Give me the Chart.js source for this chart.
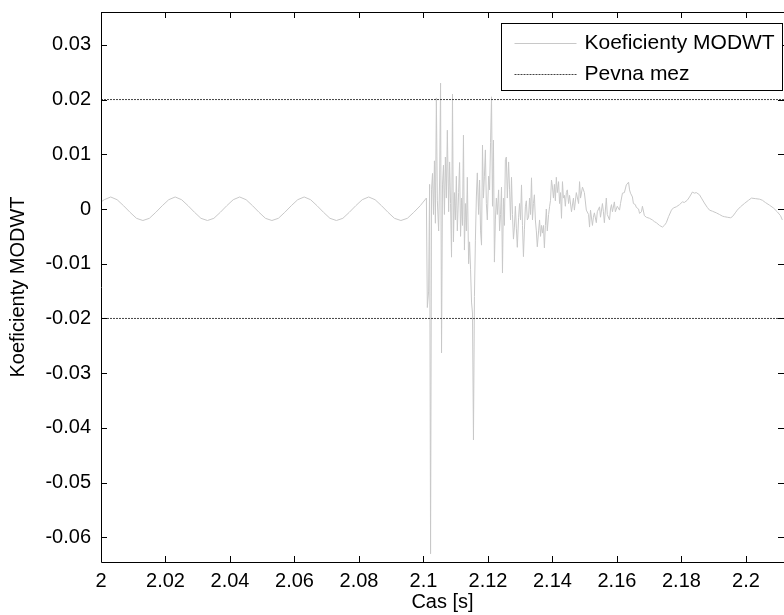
<!DOCTYPE html>
<html>
<head>
<meta charset="utf-8">
<script src="https://cdn.jsdelivr.net/npm/chart.js@4.4.1/dist/chart.umd.min.js"></script>
<style>
  html, body { margin: 0; padding: 0; background: #fff; }
</style>
</head>
<body>
<canvas id="myChart" width="784" height="615"></canvas>
<script>
const xRange = [2, 2.2118];
const yRange = [-0.0645, 0.036];
const xTicks = [2, 2.02, 2.04, 2.06, 2.08, 2.1, 2.12, 2.14, 2.16, 2.18, 2.2];
const xTickLabels = ["2", "2.02", "2.04", "2.06", "2.08", "2.1", "2.12", "2.14", "2.16", "2.18", "2.2"];
const yTicks = [-0.06, -0.05, -0.04, -0.03, -0.02, -0.01, 0, 0.01, 0.02, 0.03];
const yTickLabels = ["-0.06", "-0.05", "-0.04", "-0.03", "-0.02", "-0.01", "0", "0.01", "0.02", "0.03"];
const pevnaMez = 0.02;

// [cas s, koeficient]
const koefMODWT = [
  [2.000, 0.0013], [2.001, 0.0017], [2.003, 0.0022], [2.005, 0.0017], [2.007, 0.0006], [2.009, -0.0006], [2.011, -0.0017], [2.013, -0.0021], [2.015, -0.0017], [2.017, -0.0006], [2.019, 0.0006],
  [2.021, 0.0017], [2.023, 0.0022], [2.025, 0.0017], [2.027, 0.0006], [2.029, -0.0006], [2.031, -0.0017], [2.033, -0.0021], [2.035, -0.0017], [2.037, -0.0006], [2.039, 0.0006],
  [2.041, 0.0017], [2.043, 0.0022], [2.045, 0.0017], [2.047, 0.0006], [2.049, -0.0006], [2.051, -0.0017], [2.053, -0.0021], [2.055, -0.0017], [2.057, -0.0006], [2.059, 0.0006],
  [2.061, 0.0017], [2.063, 0.0022], [2.065, 0.0017], [2.067, 0.0006], [2.069, -0.0006], [2.071, -0.0017], [2.073, -0.0021], [2.075, -0.0017], [2.077, -0.0006], [2.079, 0.0006],
  [2.081, 0.0017], [2.083, 0.0022], [2.085, 0.0017], [2.087, 0.0006], [2.089, -0.0006], [2.091, -0.0017], [2.093, -0.0021], [2.095, -0.0017], [2.097, -0.0006], [2.099, 0.0006],
  [2.1009, 0.0020], [2.1012, -0.0180], [2.1016, -0.0150], [2.1019, 0.0045], [2.1022, -0.0630], [2.1025, 0.0035], [2.1028, 0.0065], [2.1031, -0.0010],
  [2.1034, 0.0088], [2.1037, -0.0026], [2.1040, 0.0203], [2.1043, 0.0016], [2.1047, -0.0040], [2.1050, 0.0053], [2.1053, 0.0230], [2.1056, -0.0263],
  [2.1059, 0.0044], [2.1062, 0.0080], [2.1065, -0.0010], [2.1068, 0.0095], [2.1071, 0.0020], [2.1074, 0.0144], [2.1078, -0.0005], [2.1081, 0.0086],
  [2.1084, 0.0010], [2.1087, -0.0088], [2.1090, 0.0210], [2.1093, -0.0060], [2.1096, 0.0030], [2.1099, -0.0020], [2.1102, 0.0060], [2.1105, -0.0040],
  [2.1109, 0.0030], [2.1112, 0.0085], [2.1115, -0.0050], [2.1118, 0.0020], [2.1121, -0.0030], [2.1124, 0.0135], [2.1127, -0.0075], [2.1130, 0.0010],
  [2.1133, -0.0040], [2.1136, 0.0058], [2.1140, -0.0100], [2.1143, -0.0060], [2.1146, -0.0110], [2.1149, -0.0170], [2.1152, -0.0190], [2.1155, -0.0422],
  [2.1158, -0.0160], [2.1161, -0.0057], [2.1164, 0.0022], [2.1167, 0.0066], [2.1171, -0.0010], [2.1174, 0.0053], [2.1177, -0.0040], [2.1180, -0.0066],
  [2.1183, 0.0117], [2.1186, 0.0020], [2.1189, 0.0060], [2.1192, 0.0108], [2.1195, 0.0010], [2.1198, -0.0020], [2.1202, 0.0060], [2.1205, 0.0035],
  [2.1208, 0.0122], [2.1211, 0.0205], [2.1214, 0.0005], [2.1217, 0.0126], [2.1220, -0.0097], [2.1223, -0.0020], [2.1226, 0.0020], [2.1229, -0.0010],
  [2.1233, 0.0035], [2.1236, -0.0040], [2.1239, -0.0010], [2.1242, 0.0040], [2.1245, -0.0117], [2.1248, 0.0020], [2.1251, -0.0030], [2.1254, 0.0090],
  [2.1257, 0.0095], [2.1260, 0.0020], [2.1264, 0.0086], [2.1267, 0.0035], [2.1270, -0.0020], [2.1273, 0.0058], [2.1276, -0.0010], [2.1279, -0.0055],
  [2.1282, -0.0033], [2.1285, 0.0005], [2.1288, -0.0035], [2.1291, -0.0070], [2.1295, -0.0015], [2.1298, 0.0010], [2.1301, -0.0020], [2.1304, 0.0044],
  [2.1307, -0.0030], [2.1310, -0.0087], [2.1313, -0.0038], [2.1316, 0.0004], [2.1319, 0.0015], [2.1322, -0.0020], [2.1326, -0.0015], [2.1329, 0.0020],
  [2.1332, -0.0010], [2.1335, 0.0057], [2.1338, -0.0020], [2.1341, 0.0010], [2.1344, 0.0026], [2.1347, -0.0020], [2.1350, -0.0040], [2.1353, -0.0069],
  [2.1357, -0.0040], [2.1360, -0.0020], [2.1363, -0.0050], [2.1366, -0.0030], [2.1369, -0.0044], [2.1372, -0.0030], [2.1375, -0.0071], [2.1378, -0.0030],
  [2.1381, 0.0000], [2.1384, -0.0040], [2.1388, -0.0010], [2.1391, 0.0004], [2.1394, 0.0016], [2.1397, 0.0053], [2.1400, 0.0040], [2.1403, 0.0020],
  [2.1406, 0.0045], [2.1409, 0.0015], [2.1412, 0.0058], [2.1415, 0.0030], [2.1419, 0.0050], [2.1422, 0.0010], [2.1425, 0.0030], [2.1428, -0.0017],
  [2.1431, 0.0050], [2.1434, 0.0020], [2.1437, 0.0025], [2.1440, 0.0005], [2.1443, 0.0030], [2.1446, 0.0035], [2.1450, 0.0010], [2.1453, 0.0025],
  [2.1459, -0.0005], [2.1465, 0.0020], [2.1468, -0.0002], [2.1474, 0.0030], [2.1481, 0.0010], [2.1484, 0.0050], [2.1487, 0.0020], [2.1493, 0.0040],
  [2.1499, 0.0030], [2.1505, -0.0002], [2.1512, -0.0010], [2.1515, -0.0033], [2.1518, -0.0002], [2.1524, -0.0030], [2.1527, -0.0015], [2.1530, -0.0007],
  [2.1536, -0.0025], [2.1539, -0.0005], [2.1546, 0.0004], [2.1549, -0.0015], [2.1555, 0.0010], [2.1558, -0.0005], [2.1561, -0.0025], [2.1567, 0.0020],
  [2.1570, -0.0010], [2.1577, -0.0020], [2.1580, 0.0000], [2.1583, 0.0008], [2.1586, -0.0005], [2.1592, 0.0013], [2.1595, -0.0005], [2.1601, 0.0005],
  [2.1608, -0.0002], [2.1611, 0.0010], [2.1617, 0.0029], [2.1623, 0.0030], [2.1629, 0.0044], [2.1636, 0.0049], [2.1639, 0.0035], [2.1642, 0.0029],
  [2.1648, 0.0022], [2.1651, 0.0010], [2.1657, 0.0008], [2.1660, 0.0003], [2.1667, 0.0000], [2.1670, -0.0008], [2.1676, -0.0005], [2.1679, 0.0005],
  [2.1685, -0.0012], [2.1691, -0.0015], [2.1701, -0.0017], [2.1710, -0.0020], [2.1716, -0.0023], [2.1722, -0.0025], [2.1732, -0.0030], [2.1741, -0.0033],
  [2.1747, -0.0030], [2.1753, -0.0025], [2.1760, -0.0014], [2.1769, -0.0002], [2.1775, 0.0002], [2.1784, 0.0004], [2.1794, 0.0008], [2.1803, 0.0013],
  [2.1809, 0.0012], [2.1818, 0.0016], [2.1825, 0.0022], [2.1834, 0.0031], [2.1840, 0.0029], [2.1846, 0.0030], [2.1856, 0.0026], [2.1862, 0.0020],
  [2.1871, 0.0011], [2.1880, 0.0003], [2.1887, -0.0002], [2.1896, -0.0004], [2.1908, -0.0007], [2.1918, -0.0010], [2.1927, -0.0013], [2.1933, -0.0014],
  [2.1942, -0.0015], [2.1952, -0.0016], [2.1958, -0.0014], [2.1967, -0.0007], [2.1973, -0.0002], [2.1983, 0.0004], [2.1995, 0.0010], [2.2008, 0.0016],
  [2.2017, 0.0020], [2.2029, 0.0019], [2.2042, 0.0018], [2.2051, 0.0016], [2.2060, 0.0012], [2.2073, 0.0007], [2.2085, 0.0002], [2.2097, -0.0005],
  [2.2107, -0.0012], [2.2113, -0.0020]
];

const font = "'Liberation Sans', Arial, sans-serif";
const ctx = document.getElementById("myChart");

// frame, inward ticks and the boxed legend like in matlab
const ramecek = {
  id: "ramecek",
  afterDraw(chart) {
    const c = chart.ctx;
    const a = chart.chartArea;
    const sx = chart.scales.x;
    const sy = chart.scales.y;
    c.save();
    c.strokeStyle = "#000";
    c.lineWidth = 1;
    c.beginPath();
    c.rect(a.left + 0.5, a.top + 0.5, a.right - a.left, a.bottom - a.top);
    xTicks.forEach(function (v) {
      const x = Math.round(sx.getPixelForValue(v)) + 0.5;
      c.moveTo(x, a.bottom); c.lineTo(x, a.bottom - 6);
      c.moveTo(x, a.top); c.lineTo(x, a.top + 6);
    });
    yTicks.forEach(function (v) {
      const y = Math.round(sy.getPixelForValue(v)) + 0.5;
      c.moveTo(a.left, y); c.lineTo(a.left + 6, y);
      c.moveTo(a.right, y); c.lineTo(a.right - 6, y);
    });
    c.stroke();

    // legend
    const items = [chart.data.datasets[2], chart.data.datasets[0]];
    const bx = a.right - 282.5, by = a.top + 11.5, bw = 281, bh = 67;
    c.fillStyle = "#fff";
    c.fillRect(bx, by, bw, bh);
    c.strokeRect(bx, by, bw, bh);
    c.font = "21px " + font;
    c.textBaseline = "middle";
    items.forEach(function (ds, i) {
      const y = by + 20 + i * 31;
      c.beginPath();
      c.strokeStyle = ds.borderColor;
      c.setLineDash(ds.borderDash || []);
      c.moveTo(bx + 13, y); c.lineTo(bx + 75, y);
      c.stroke();
      c.setLineDash([]);
      c.fillStyle = "#000";
      c.fillText(ds.label, bx + 83, y);
    });
    c.restore();
  }
};

new Chart(ctx, {
  type: "line",
  data: {
    datasets: [
      {
        label: "Pevna mez",
        data: [[xRange[0], pevnaMez], [xRange[1], pevnaMez]],
        borderColor: "#444",
        borderWidth: 1,
        borderDash: [2, 1],
        pointRadius: 0,
        order: 0,
      },
      {
        label: "Pevna mez",
        data: [[xRange[0], -pevnaMez], [xRange[1], -pevnaMez]],
        borderColor: "#444",
        borderWidth: 1,
        borderDash: [2, 1],
        pointRadius: 0,
        order: 0,
      },
      {
        label: "Koeficienty MODWT",
        data: koefMODWT,
        borderColor: "#c8c8c8",
        borderWidth: 1,
        pointRadius: 0,
        tension: 0,
        order: 1,
      },
    ],
  },
  options: {
    responsive: false,
    animation: false,
    devicePixelRatio: 1,
    layout: { padding: { top: 12, right: 0, left: 0, bottom: 0 } },
    plugins: { legend: { display: false }, tooltip: { enabled: false } },
    scales: {
      x: {
        type: "linear",
        min: xRange[0],
        max: xRange[1],
        grid: { display: false, drawTicks: false },
        border: { display: false },
        afterBuildTicks: function (s) { s.ticks = xTicks.map(function (v) { return { value: v }; }); },
        afterFit: function (s) { s.height = 53; s.paddingLeft = 0; s.paddingRight = 0; },
        ticks: {
          padding: 7,
          maxRotation: 0,
          autoSkip: false,
          color: "#000",
          font: { family: font, size: 20 },
          callback: function (v, i) { return xTickLabels[i]; },
        },
        title: { display: true, text: "Cas [s]", color: "#000", font: { family: font, size: 20 }, padding: { top: 0, bottom: 1 } },
      },
      y: {
        min: yRange[0],
        max: yRange[1],
        grid: { display: false, drawTicks: false },
        border: { display: false },
        afterBuildTicks: function (s) { s.ticks = yTicks.map(function (v) { return { value: v }; }); },
        afterFit: function (s) { s.width = 101; s.paddingTop = 0; s.paddingBottom = 0; },
        ticks: {
          padding: 10,
          autoSkip: false,
          color: "#000",
          font: { family: font, size: 20 },
          callback: function (v, i) { return yTickLabels[i]; },
        },
        title: { display: true, text: "Koeficienty MODWT", color: "#000", font: { family: font, size: 20 }, padding: { top: 6, bottom: 0 } },
      },
    },
  },
  plugins: [ramecek],
});
</script>
</body>
</html>
